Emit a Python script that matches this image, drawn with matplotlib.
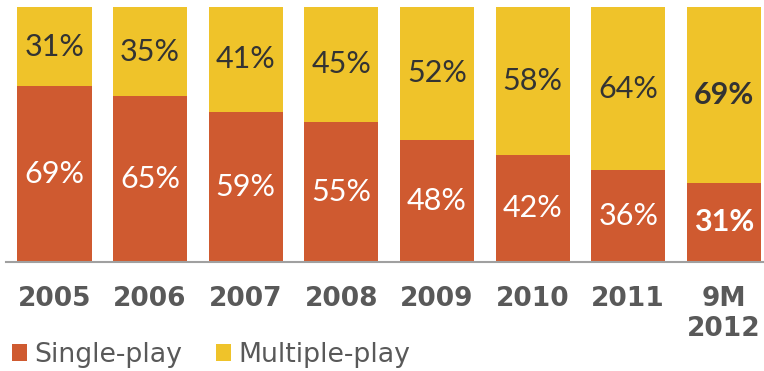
import matplotlib
matplotlib.use("Agg")
import matplotlib.pyplot as plt
import numpy as np

years = ["2005", "2006", "2007", "2008", "2009", "2010", "2011", "9M\n2012"]
single_play = [69, 65, 59, 55, 48, 42, 36, 31]
multiple_play = [31, 35, 41, 45, 52, 58, 64, 69]

RED = "#CF5A30"
YELLOW = "#EFC32A"
GRAY = "#595959"

fig = plt.figure(figsize=(7.64, 3.71), dpi=100)
ax = fig.add_axes([6 / 764, 1 - 262 / 371, 1 - 6 / 764, 255 / 371])

x = np.arange(len(years))
w = 0.775
ax.bar(x, single_play, w, color=RED, label="Single-play", zorder=2)
ax.bar(x, multiple_play, w, bottom=single_play, color=YELLOW,
       label="Multiple-play", zorder=2)

last = len(years) - 1
for i, (s, m) in enumerate(zip(single_play, multiple_play)):
    weight = "bold" if i == last else "normal"
    ax.text(i, s / 2, f"{s}%", ha="center", va="center", color="white",
            fontsize=22, family="Lato", fontweight=weight, zorder=3)
    ax.text(i, s + m / 2, f"{m}%", ha="center", va="center", color="#333333",
            fontsize=22, family="Lato", fontweight=weight, zorder=3)

ax.set_xlim(-0.507, 7.42)
ax.set_ylim(0, 100)
ax.set_yticks([])
ax.set_xticks(x)
ax.set_xticklabels(years, fontsize=19, fontweight="bold", color=GRAY,
                   family="DejaVu Sans", linespacing=1.2)
ax.tick_params(axis="x", length=0, pad=17)
for side in ("top", "right", "left"):
    ax.spines[side].set_visible(False)
ax.spines["bottom"].set_color("#A0A0A0")
ax.spines["bottom"].set_linewidth(1.5)
ax.patch.set_alpha(0)

leg = fig.legend(loc="lower left", bbox_to_anchor=(0.0015, -0.021), ncol=2,
                 frameon=False, fontsize=19.3, handlelength=0.58, handleheight=0.58,
                 handletextpad=0.27, columnspacing=1.23, borderaxespad=0)
for t in leg.get_texts():
    t.set_color(GRAY)

fig.savefig("out.png", dpi=100)
